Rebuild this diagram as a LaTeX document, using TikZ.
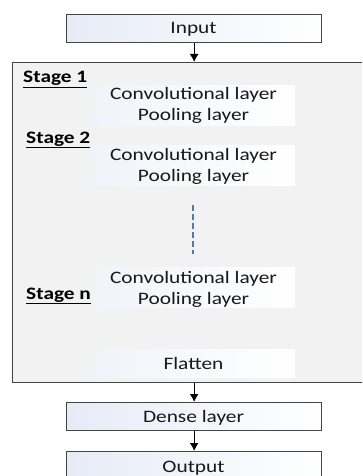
\documentclass[tikz,border=0pt]{standalone}
\usepackage{fontspec}
\setmainfont{Carlito}[FakeStretch=1.22]
\usetikzlibrary{arrows.meta}
\definecolor{boxline}{HTML}{444444}
\definecolor{panel}{HTML}{F2F2F2}
\definecolor{tint}{HTML}{E6EBF6}
\definecolor{dots}{HTML}{4F7BAB}
\tikzset{
  flowbox/.style={draw=boxline, line width=1.3pt, left color=tint, right color=white,
    minimum width=255pt, minimum height=28pt, inner sep=0pt, anchor=north west},
  panelbox/.style={draw=boxline, line width=1.3pt, fill=panel,
    minimum width=360pt, minimum height=320pt, inner sep=0pt, anchor=north west},
  layerbox/.style={left color=tint!60, right color=white, draw=none,
    minimum width=203pt, minimum height=40pt, inner sep=0pt, anchor=north west},
  flatbox/.style={layerbox, minimum height=28pt},
  txt/.style={font=\fontsize{17.5}{21}\selectfont, text=black!90, inner sep=0pt, anchor=base},
  stagetxt/.style={font=\fontsize{17.5}{21}\selectfont\bfseries, inner sep=0pt, anchor=base west},
  flow/.style={draw=black, line width=1.3pt, -{Latex[length=8pt,width=9pt]}}
}
\newcommand{\stagelabel}[1]{\underline{#1}}
\begin{document}
\begin{tikzpicture}[x=1pt,y=-1pt]
\useasboundingbox (0,0) rectangle (362,476);
\clip (0,0) rectangle (362,476);
\fill[white] (0,0) rectangle (362,476);

% main blocks
\node[flowbox] (input) at (66,14) {};
\node[txt] (inputtxt) at (193.5,34) {Input};
\node[panelbox] (stages) at (12,62) {};
\node[flowbox] (dense) at (66,402) {};
\node[txt] (densetxt) at (193.5,422) {Dense layer};
\node[flowbox, minimum height=40pt] (output) at (66,451) {};
\node[txt] (outputtxt) at (193.5,472) {Output};

% layer groups inside the panel
\node[layerbox] (s1) at (92,85) {};
\node[layerbox] (s2) at (92,145) {};
\node[layerbox] (sn) at (92,267) {};
\node[flatbox] (flat) at (92,349) {};

\node[txt] (c1) at (193.5,100) {Convolutional layer};
\node[txt] (p1) at (193.5,121) {Pooling layer};
\node[txt] (c2) at (193.5,160) {Convolutional layer};
\node[txt] (p2) at (193.5,181) {Pooling layer};
\node[txt] (cn) at (193.5,283) {Convolutional layer};
\node[txt] (pn) at (193.5,304) {Pooling layer};
\node[txt] (ft) at (193.5,369) {Flatten};

\node[stagetxt] (l1) at (23,83) {\stagelabel{Stage 1}};
\node[stagetxt] (l2) at (26,143) {\stagelabel{Stage 2}};
\node[stagetxt] (ln) at (26,299) {\stagelabel{Stage n}};

% ellipsis between stages
\coordinate (d1) at (193,205);
\coordinate (d2) at (193,254);
\draw[dots, line width=1.5pt, dash pattern=on 6pt off 3pt] (d1) -- (d2);

% data flow
\draw[flow] (input.south) -- (input.south |- stages.north);
\draw[flow] (dense.north |- stages.south) -- (dense.north);
\draw[flow] (dense.south) -- (output.north);
\end{tikzpicture}
\end{document}
